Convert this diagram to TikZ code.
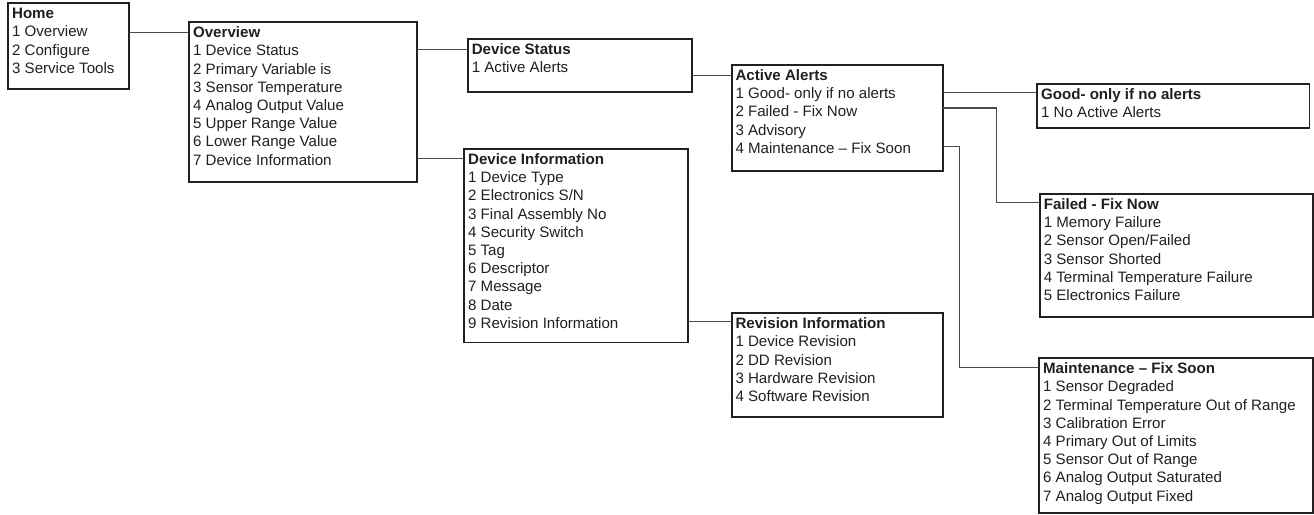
\documentclass[tikz,border=0pt]{standalone}
\usepackage{fontspec}
\setmainfont{Liberation Sans}
\definecolor{ink}{HTML}{231F20}
\definecolor{wirec}{HTML}{4A4A4A}
% menu panel: width, height, bold title, item lines
\newcommand\menupanel[4]{%
  \parbox[c][#2pt][t]{#1pt}{%
    \fontsize{15.1pt}{18.2pt}\selectfont
    \raggedright\setlength\leftskip{3.8pt}%
    \rule{0pt}{15.4pt}\textbf{#3}\\#4}}
\tikzset{
  menu/.style={draw=ink, line width=1.7pt, inner sep=0pt, outer sep=0pt,
    anchor=north west, text=ink},
  wire/.style={draw=wirec, line width=1.1pt}
}
\begin{document}
\begin{tikzpicture}[x=1pt, y=-1pt]
\useasboundingbox[fill=white] (0,0) rectangle (1314,514);

\node[menu] (home) at (8.3,3.3) {\menupanel{120.7}{86}{Home}{%
  1 Overview\\2 Configure\\3 Service Tools}};
\node[menu] (overview) at (189.3,22.3) {\menupanel{227.7}{159.4}{Overview}{%
  1 Device Status\\2 Primary Variable is\\3 Sensor Temperature\\4 Analog Output Value\\%
  5 Upper Range Value\\6 Lower Range Value\\7 Device Information}};
\node[menu] (devstatus) at (468,39.3) {\menupanel{223.7}{53}{Device Status}{%
  1 Active Alerts}};
\node[menu] (devinfo) at (464.3,149) {\menupanel{223.7}{193.5}{Device Information}{%
  1 Device Type\\2 Electronics S/N\\3 Final Assembly No\\4 Security Switch\\5 Tag\\%
  6 Descriptor\\7 Message\\8 Date\\9 Revision Information}};
\node[menu] (alerts) at (731.7,65) {\menupanel{211}{106}{Active Alerts}{%
  1 Good- only if no alerts\\2 Failed - Fix Now\\3 Advisory\\4 Maintenance – Fix Soon}};
\node[menu] (revision) at (731.7,313.3) {\menupanel{211.6}{104}{Revision Information}{%
  1 Device Revision\\2 DD Revision\\3 Hardware Revision\\4 Software Revision}};
\node[menu] (good) at (1037.3,84) {\menupanel{272.2}{44.3}{Good- only if no alerts}{%
  1 No Active Alerts}};
\node[menu] (failed) at (1040,194) {\menupanel{272.7}{123.3}{Failed - Fix Now}{%
  1 Memory Failure\\2 Sensor Open/Failed\\3 Sensor Shorted\\%
  4 Terminal Temperature Failure\\5 Electronics Failure}};
\node[menu] (maint) at (1039.3,358.3) {\menupanel{273.4}{154.4}{Maintenance – Fix Soon}{%
  1 Sensor Degraded\\2 Terminal Temperature Out of Range\\3 Calibration Error\\%
  4 Primary Out of Limits\\5 Sensor Out of Range\\6 Analog Output Saturated\\%
  7 Analog Output Fixed}};

% elbow points of the stepped connectors
\coordinate (failedbend) at (996.7,202.5);
\coordinate (maintbend) at (959.3,367.5);

\draw[wire] (home.east |- 0,32.3) -- (overview.west |- 0,32.3);
\draw[wire] (overview.east |- 0,49.5) -- (devstatus.west |- 0,49.5);
\draw[wire] (overview.east |- 0,158.5) -- (devinfo.west |- 0,158.5);
\draw[wire] (devstatus.east |- 0,75.7) -- (alerts.west |- 0,75.7);
\draw[wire] (devinfo.east |- 0,321.7) -- (revision.west |- 0,321.7);
\draw[wire] (alerts.east |- 0,92.3) -- (good.west |- 0,92.3);
\draw[wire] (alerts.east |- 0,108) -| (failedbend) -- (failed.west |- failedbend);
\draw[wire] (alerts.east |- 0,146.5) -| (maintbend) -- (maint.west |- maintbend);
\end{tikzpicture}
\end{document}
